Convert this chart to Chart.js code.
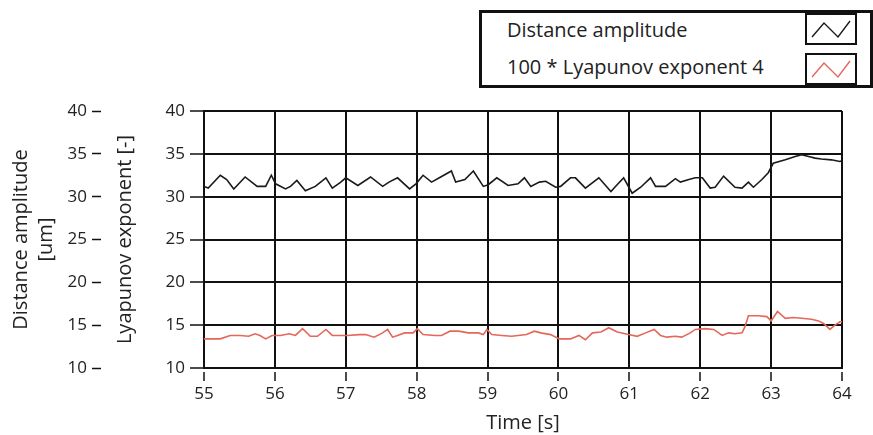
<!DOCTYPE html>
<html>
<head>
<meta charset="utf-8">
<script src="https://cdn.jsdelivr.net/npm/chart.js@4/dist/chart.umd.min.js"></script>
<style>
  html, body { margin: 0; padding: 0; background: #fff; }
  #wrap { position: relative; width: 873px; height: 435px; overflow: hidden; }
  #legend { position: absolute; left: 479px; top: 10px; width: 388px; height: 72px;
            border: 3px solid #111; background: #fff; font-family: "Open Sans", sans-serif;
            font-size: 20px; color: #222; }
  .row { position: absolute; left: 25px; height: 32px; line-height: 32px; white-space: nowrap; }
  .icon { position: absolute; left: 323px; width: 48px; height: 28px; border: 2px solid #111; background: #fff; }
</style>
</head>
<body>
<div id="wrap">
  <canvas id="c" width="873" height="435"></canvas>
  <div id="legend"></div>
</div>
<script>
// ---- data ----
const seriesNames = ['Distance amplitude', '100 * Lyapunov exponent 4'];
const xTicks = [55, 56, 57, 58, 59, 60, 61, 62, 63, 64];
const yTicks = [10, 15, 20, 25, 30, 35, 40];

const distTime = [55.00,55.06,55.23,55.32,55.42,55.58,55.75,55.87,55.95,56.01,56.15,56.22,56.31,56.43,56.57,56.72,56.81,56.93,57.00,57.17,57.35,57.52,57.61,57.73,57.90,57.99,58.09,58.21,58.32,58.49,58.55,58.68,58.80,58.94,59.01,59.13,59.29,59.43,59.52,59.61,59.73,59.82,59.96,60.03,60.17,60.24,60.38,60.57,60.74,60.85,60.92,61.04,61.16,61.30,61.37,61.51,61.65,61.72,61.84,61.93,62.03,62.14,62.21,62.33,62.49,62.59,62.68,62.75,62.87,62.96,63.03,63.20,63.34,63.43,63.53,63.62,63.71,63.85,63.97,64.00];
const distValue = [31.2,31.0,32.5,32.0,30.9,32.3,31.2,31.2,32.5,31.5,30.9,31.2,31.9,30.7,31.2,32.2,31.0,31.7,32.2,31.3,32.3,31.2,31.7,32.2,30.9,31.5,32.5,31.7,32.2,33.0,31.7,32.0,33.0,31.2,31.4,32.2,31.3,31.5,32.2,31.2,31.7,31.8,31.1,31.2,32.2,32.2,31.0,32.2,30.6,31.6,32.2,30.4,31.1,32.2,31.2,31.2,32.1,31.7,32.0,32.2,32.2,31.0,31.1,32.4,31.1,31.0,31.7,31.1,32.0,32.8,33.9,34.3,34.7,34.9,34.7,34.5,34.4,34.3,34.1,34.2];

const lyapTime = [55.00,55.23,55.37,55.51,55.63,55.72,55.79,55.87,55.96,56.08,56.20,56.29,56.39,56.50,56.60,56.72,56.81,56.93,57.02,57.19,57.28,57.40,57.52,57.59,57.66,57.73,57.83,57.95,58.01,58.09,58.26,58.35,58.47,58.59,58.73,58.87,58.94,58.99,59.06,59.20,59.34,59.43,59.55,59.66,59.75,59.89,60.01,60.17,60.29,60.38,60.48,60.60,60.71,60.83,60.99,61.11,61.23,61.35,61.44,61.53,61.65,61.74,61.86,61.93,62.07,62.19,62.31,62.40,62.49,62.59,62.63,62.68,62.82,62.94,63.00,63.09,63.20,63.31,63.43,63.57,63.67,63.74,63.83,63.90,63.97,64.00];
const lyapValue = [13.4,13.4,13.8,13.8,13.7,14.0,13.8,13.4,13.8,13.8,14.0,13.8,14.6,13.7,13.7,14.5,13.8,13.8,13.8,13.9,13.9,13.6,14.1,14.5,13.6,13.8,14.1,14.1,14.6,13.9,13.8,13.8,14.3,14.3,14.1,14.1,13.9,14.5,13.9,13.8,13.7,13.8,13.9,14.3,14.1,13.9,13.4,13.4,13.8,13.3,14.1,14.2,14.7,14.2,13.9,13.7,14.1,14.5,13.8,13.6,13.7,13.6,14.1,14.5,14.6,14.5,13.8,14.1,14.0,14.1,14.8,16.1,16.1,16.0,15.5,16.6,15.8,15.9,15.8,15.7,15.5,15.2,14.5,15.0,15.4,15.4];

// ---- styling ----
const colors = ['#1a1a1a', '#e5675a'];
const FONT = '"Open Sans", sans-serif';
const TEXT = '#222';
const LINE = '#111';

const toPoints = (xs, ys) => xs.map((x, i) => ({ x: x, y: ys[i] }));

new Chart(document.getElementById('c'), {
  type: 'line',
  data: {
    datasets: [
      { label: seriesNames[0], data: toPoints(distTime, distValue), yAxisID: 'y2',
        borderColor: colors[0], borderWidth: 1.6, pointRadius: 0, tension: 0 },
      { label: seriesNames[1], data: toPoints(lyapTime, lyapValue), yAxisID: 'y',
        borderColor: colors[1], borderWidth: 1.6, pointRadius: 0, tension: 0 }
    ]
  },
  options: {
    responsive: false,
    animation: false,
    layout: { padding: { left: 5, top: 111, right: 31, bottom: 0 } },
    plugins: { legend: { display: false }, tooltip: { enabled: false } },
    scales: {
      x: {
        type: 'linear', min: xTicks[0], max: xTicks[xTicks.length - 1],
        afterBuildTicks: s => { s.ticks = xTicks.map(v => ({ value: v })); },
        afterFit: s => { s.height = 67; },
        ticks: { color: TEXT, font: { family: FONT, size: 17 }, padding: 3, maxRotation: 0 },
        grid: { color: LINE, lineWidth: 2, tickLength: 13, tickWidth: 1.5, tickColor: LINE,
                tickBorderDash: [0, 3, 10, 40] },
        border: { color: LINE, width: 2 },
        title: { display: true, text: 'Time [s]', color: TEXT, font: { family: FONT, size: 20, lineHeight: 1.2 },
                 padding: { top: 0, bottom: 0 } }
      },
      y: {
        position: 'left', weight: 0, min: 10, max: 40,
        afterBuildTicks: s => { s.ticks = yTicks.map(v => ({ value: v })); },
        afterFit: s => { s.width = 103; },
        ticks: { color: TEXT, font: { family: FONT, size: 17 }, padding: 5 },
        grid: { color: LINE, lineWidth: 2, tickLength: 14, tickWidth: 1.5, tickColor: LINE },
        border: { color: LINE, width: 2 },
        title: { display: true, text: 'Lyapunov exponent [-]', color: TEXT,
                 font: { family: FONT, size: 20, lineHeight: 1.2 }, padding: { top: 12, bottom: 0 } }
      },
      y2: {
        position: 'left', weight: 10, min: 10, max: 40,
        afterBuildTicks: s => { s.ticks = yTicks.map(v => ({ value: v })); },
        afterFit: s => { s.width = 96; },
        ticks: { color: TEXT, font: { family: FONT, size: 17 }, padding: 5 },
        grid: { drawOnChartArea: false, tickLength: 9, tickWidth: 1.5, tickColor: LINE },
        border: { display: false },
        title: { display: true, text: ['Distance amplitude', '[um]'], color: TEXT,
                 font: { family: FONT, size: 20, lineHeight: 1.25 }, padding: { top: 4, bottom: 0 } }
      }
    }
  }
});

// ---- legend (HTML, built from the series names) ----
const legend = document.getElementById('legend');
const rowTops = [1, 38];
const iconTops = [0, 40];
seriesNames.forEach((name, i) => {
  const row = document.createElement('div');
  row.className = 'row';
  row.style.top = rowTops[i] + 'px';
  row.textContent = name;
  legend.appendChild(row);
  const icon = document.createElement('div');
  icon.className = 'icon';
  icon.style.top = iconTops[i] + 'px';
  icon.innerHTML = '<svg width="48" height="28" viewBox="0 0 48 28"><polyline points="5,22 17,8 31,22 43,6" fill="none" stroke="' + colors[i] + '" stroke-width="1.4"/></svg>';
  legend.appendChild(icon);
});
</script>
</body>
</html>
